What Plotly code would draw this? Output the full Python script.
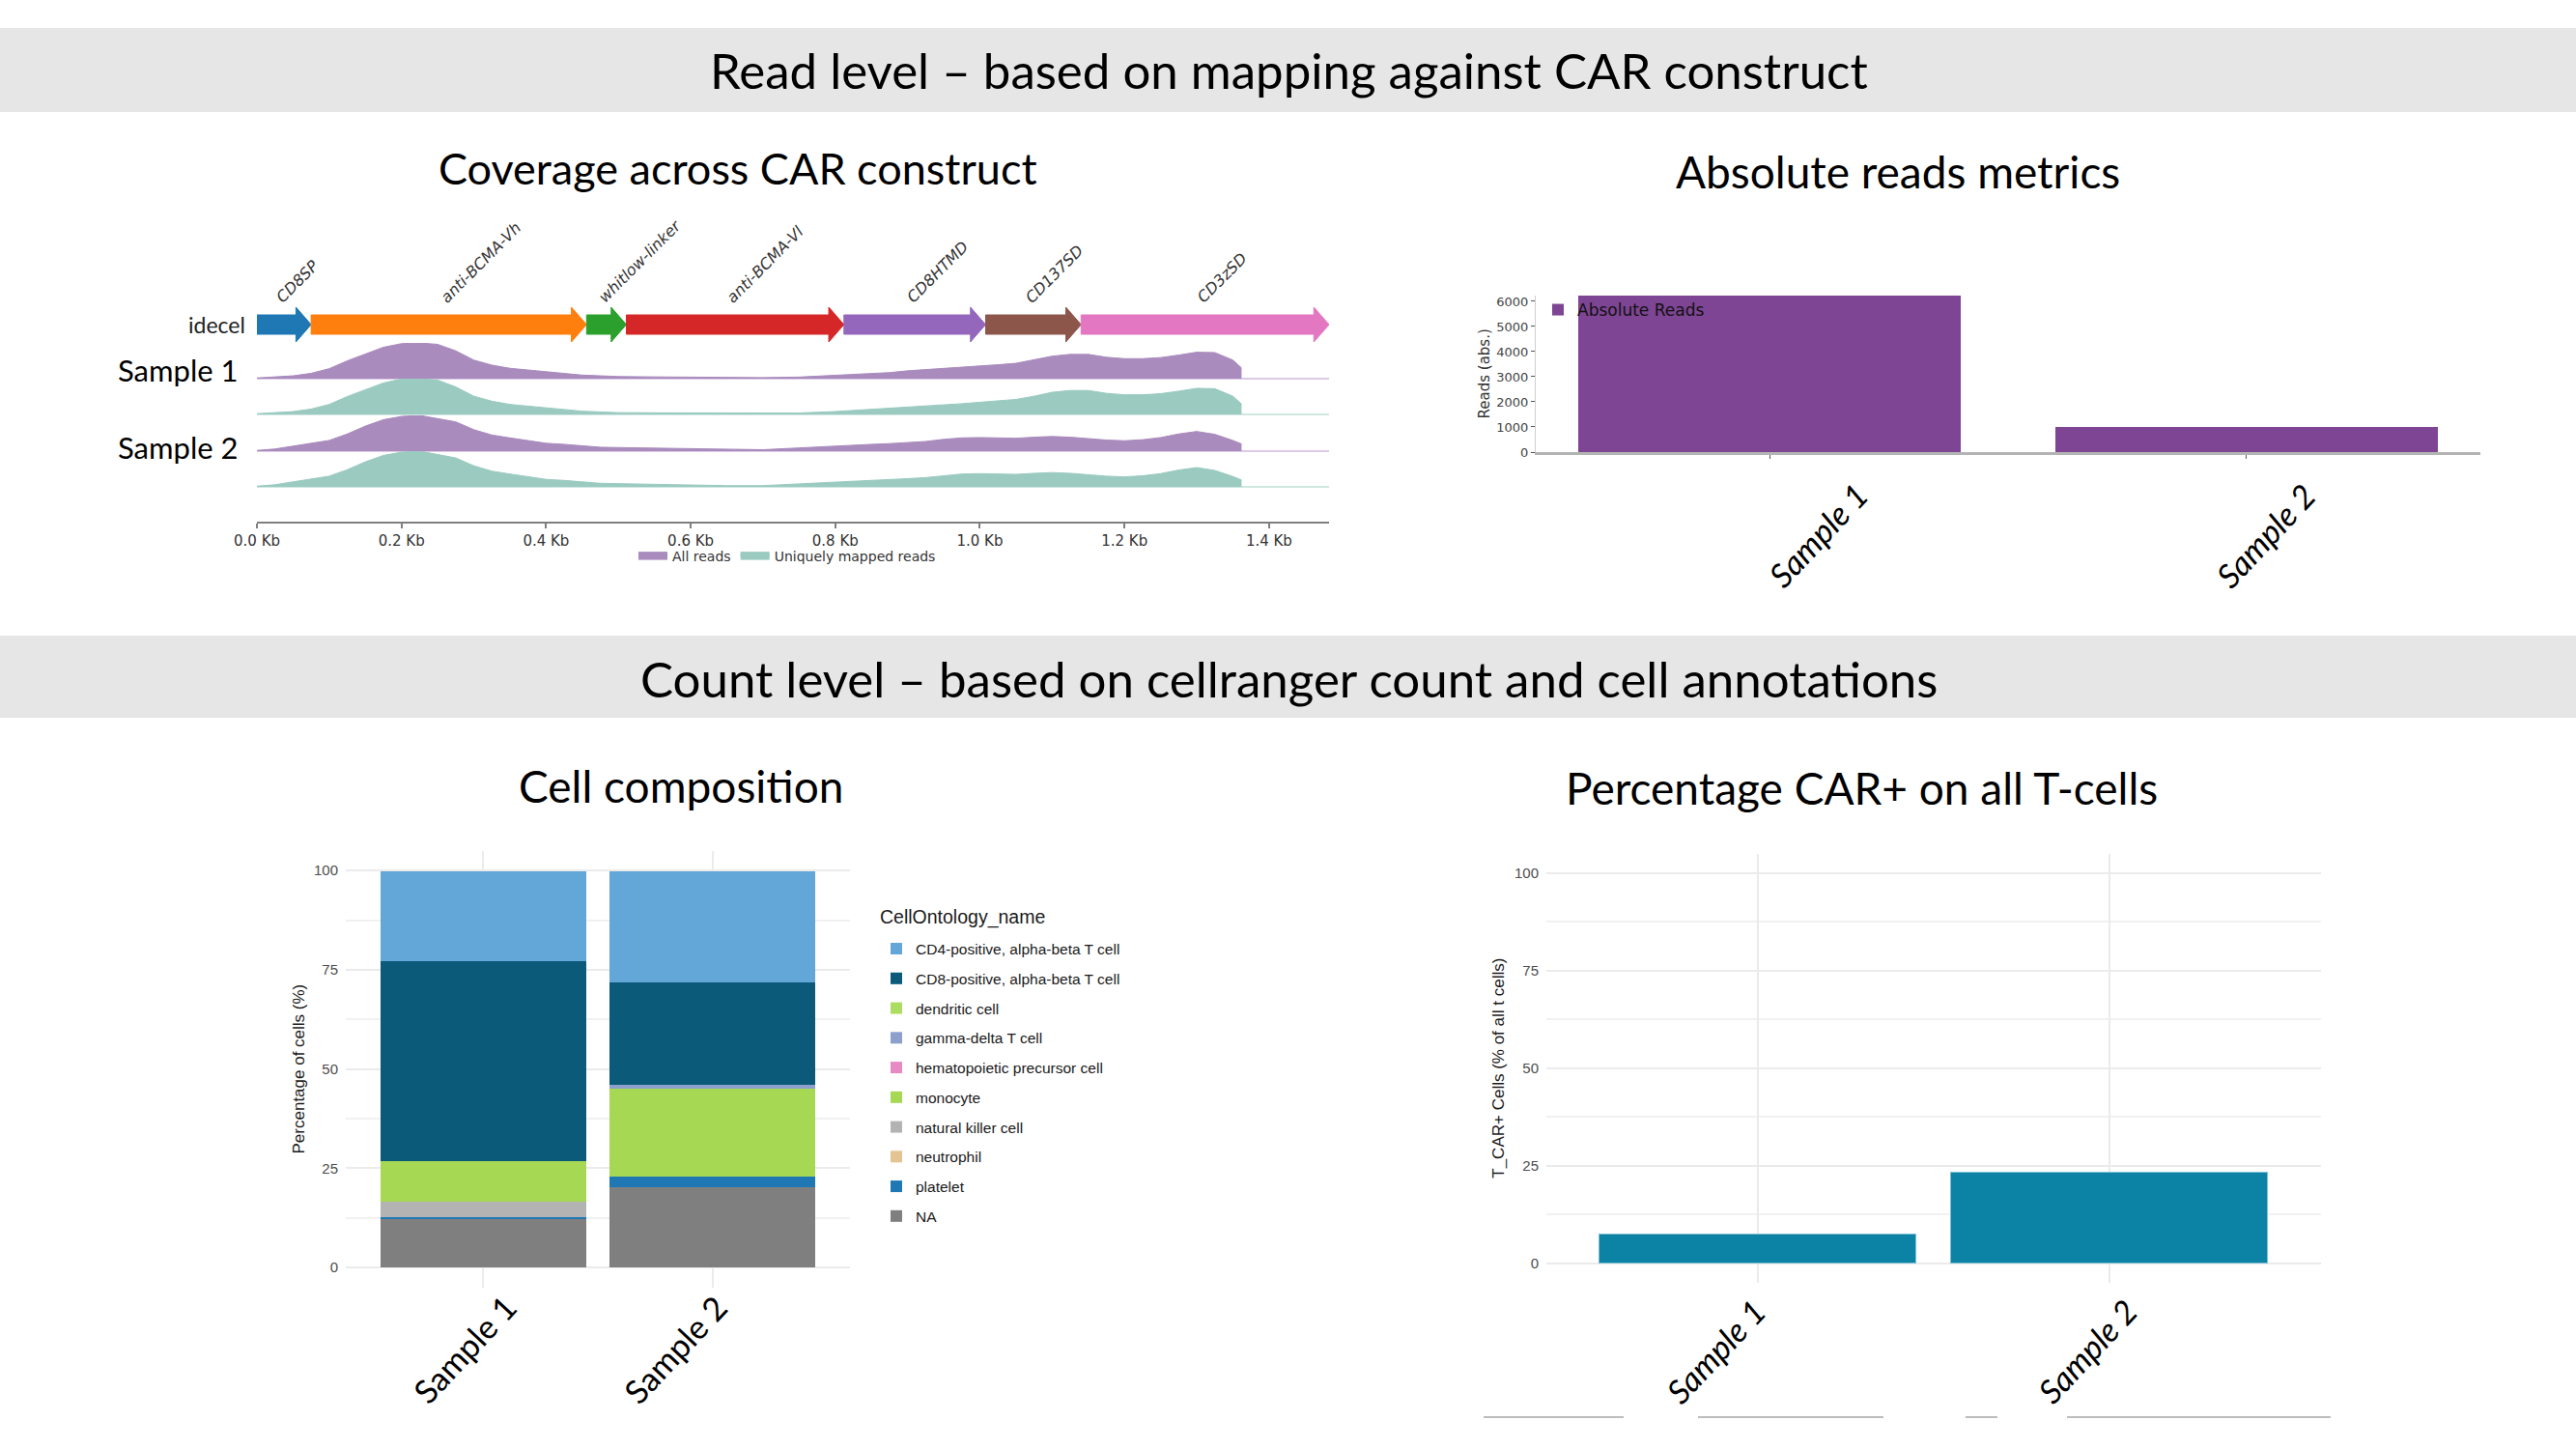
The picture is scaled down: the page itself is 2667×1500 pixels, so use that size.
import plotly.graph_objects as go

W, H = 2667, 1500

# ---------------- data ----------------
FEATURES = ["CD8SP", "anti-BCMA-Vh", "whitlow-linker", "anti-BCMA-Vl", "CD8HTMD", "CD137SD", "CD3zSD"]
FEAT_START = [0.0, 0.075, 0.456, 0.511, 0.812, 1.008, 1.140]
FEAT_END = [0.075, 0.456, 0.511, 0.812, 1.008, 1.140, 1.483]
FEAT_COLORS = ["#1f77b4", "#ff7f0e", "#2ca02c", "#d62728", "#9467bd", "#8c564b", "#e377c2"]
CONSTRUCT_NAME = "idecel"
CONSTRUCT_LEN_KB = 1.483

COV_KB = [0.0, 0.025, 0.05, 0.075, 0.1, 0.125, 0.15, 0.175, 0.2, 0.225, 0.25, 0.275, 0.3,
          0.325, 0.35, 0.375, 0.4, 0.425, 0.45, 0.475, 0.5, 0.55, 0.6, 0.65, 0.7, 0.75, 0.8,
          0.825, 0.85, 0.875, 0.9, 0.925, 0.95, 0.975, 1.0, 1.025, 1.05, 1.075, 1.1, 1.125,
          1.15, 1.175, 1.2, 1.225, 1.25, 1.275, 1.3, 1.325, 1.35, 1.362]
S1_ALL = [0.02, 0.04, 0.08, 0.15, 0.28, 0.50, 0.70, 0.88, 0.98, 1.00, 0.96, 0.78, 0.52,
          0.38, 0.29, 0.24, 0.19, 0.14, 0.10, 0.08, 0.06, 0.05, 0.045, 0.035, 0.03, 0.045, 0.09,
          0.12, 0.14, 0.17, 0.22, 0.25, 0.28, 0.31, 0.35, 0.39, 0.43, 0.52, 0.63, 0.68,
          0.68, 0.60, 0.56, 0.56, 0.59, 0.66, 0.74, 0.73, 0.52, 0.30]
S1_UNIQ = [0.02, 0.04, 0.08, 0.15, 0.28, 0.50, 0.70, 0.88, 0.99, 1.00, 0.96, 0.77, 0.51,
           0.37, 0.28, 0.23, 0.18, 0.13, 0.09, 0.07, 0.05, 0.045, 0.04, 0.03, 0.03, 0.04, 0.08,
           0.11, 0.13, 0.16, 0.21, 0.24, 0.27, 0.30, 0.34, 0.38, 0.42, 0.51, 0.62, 0.67,
           0.67, 0.59, 0.55, 0.55, 0.58, 0.65, 0.73, 0.72, 0.51, 0.29]
S2_ALL = [0.02, 0.06, 0.14, 0.22, 0.30, 0.48, 0.70, 0.88, 0.97, 1.00, 0.90, 0.82, 0.60,
          0.45, 0.37, 0.30, 0.22, 0.19, 0.14, 0.11, 0.10, 0.08, 0.06, 0.04, 0.04, 0.09, 0.15,
          0.16, 0.19, 0.21, 0.24, 0.27, 0.33, 0.37, 0.38, 0.37, 0.36, 0.39, 0.41, 0.39,
          0.34, 0.31, 0.29, 0.32, 0.38, 0.48, 0.55, 0.47, 0.30, 0.20]
S2_UNIQ = [0.02, 0.06, 0.14, 0.22, 0.30, 0.48, 0.70, 0.88, 0.97, 1.00, 0.90, 0.81, 0.59,
           0.44, 0.36, 0.29, 0.21, 0.18, 0.13, 0.10, 0.09, 0.07, 0.05, 0.035, 0.035, 0.08, 0.14,
           0.15, 0.18, 0.20, 0.23, 0.26, 0.32, 0.36, 0.37, 0.36, 0.35, 0.38, 0.40, 0.38,
           0.33, 0.30, 0.28, 0.31, 0.37, 0.47, 0.54, 0.46, 0.29, 0.19]
COV_TICKS = [0.0, 0.2, 0.4, 0.6, 0.8, 1.0, 1.2, 1.4]

SAMPLES = ["Sample 1", "Sample 2"]
ABS_READS = [6240, 1000]

CELL_LEGEND_TITLE = "CellOntology_name"
CELL_TYPES = ["CD4-positive, alpha-beta T cell", "CD8-positive, alpha-beta T cell", "dendritic cell",
              "gamma-delta T cell", "hematopoietic precursor cell", "monocyte", "natural killer cell",
              "neutrophil", "platelet", "NA"]
CELL_COLORS = ["#63a6d8", "#0c5a79", "#addc62", "#8da0cb", "#e78ac3", "#a6d854", "#b3b3b3",
               "#e5c494", "#1f78b4", "#7f7f7f"]
CELL_PCT_S1 = [22.7, 50.4, 0.0, 0.0, 0.0, 10.2, 3.9, 0.0, 0.5, 12.3]
CELL_PCT_S2 = [28.2, 25.8, 0.0, 0.9, 0.0, 22.1, 0.0, 0.0, 2.8, 20.2]

CAR_PCT = [7.4, 23.3]

# ---------------- helpers ----------------
def fx(px):
    return px / W

def fy(py):
    return 1 - py / H

OVER = "Lato"
MPL = "DejaVu Sans"
GG = "Liberation Sans"

fig = go.Figure()

# ---------------- coverage tracks ----------------
TRACK_BASE = [392, 429, 467, 504]
AMP = 37
tracks = [
    (S1_ALL, "#a98bbd", "#dccbe6", "All reads", True),
    (S1_UNIQ, "#9acac0", "#cfe7e1", "Uniquely mapped reads", True),
    (S2_ALL, "#a98bbd", "#dccbe6", "All reads", False),
    (S2_UNIQ, "#9acac0", "#cfe7e1", "Uniquely mapped reads", False),
]
yaxis_names = ["y", "y2", "y3", "y4"]
for i, (vals, col, zcol, name, show) in enumerate(tracks):
    fig.add_trace(go.Scatter(
        x=COV_KB, y=vals, mode="lines", fill="tozeroy", fillcolor=col,
        line=dict(color=col, width=1), name=name, showlegend=show, legend="legend",
        xaxis="x", yaxis=yaxis_names[i], hoverinfo="skip"))
    key = "yaxis" if i == 0 else f"yaxis{i+1}"
    base = TRACK_BASE[i]
    fig.layout[key] = dict(
        domain=[fy(base + 0.03 * AMP), fy(base - AMP)], range=[-0.03, 1.0], anchor="x",
        showticklabels=False, showgrid=False, showline=False, ticks="", automargin=False,
        zeroline=True, zerolinecolor=zcol, zerolinewidth=2, fixedrange=True)

fig.update_layout(xaxis=dict(
    domain=[fx(266), fx(1376)], range=[0, CONSTRUCT_LEN_KB], anchor="free", position=fy(541),
    showgrid=False, zeroline=False, showline=True, linecolor="#7f7f7f", linewidth=2,
    ticks="outside", ticklen=5, tickcolor="#7f7f7f", tickwidth=1.5, automargin=False,
    tickvals=COV_TICKS, ticktext=[f"{t:.1f} Kb" for t in COV_TICKS],
    tickfont=dict(family=MPL, size=15, color="#333333")))

# construct arrows
shapes = []
HEAD = 0.021
yb0, yb1 = fy(346), fy(326)
yh0, yh1 = fy(354), fy(318)
ymid = fy(336)
for s, e, c in zip(FEAT_START, FEAT_END, FEAT_COLORS):
    xh = e - HEAD
    path = (f"M {s},{yb0} L {xh},{yb0} L {xh},{yh0} L {e},{ymid} L {xh},{yh1} "
            f"L {xh},{yb1} L {s},{yb1} Z")
    shapes.append(dict(type="path", path=path, xref="x", yref="paper",
                       fillcolor=c, line=dict(color=c, width=1), layer="above"))

annotations = []
for name, s, e in zip(FEATURES, FEAT_START, FEAT_END):
    annotations.append(dict(
        x=(s + e) / 2, y=fy(320), xref="x", yref="paper", text=name, showarrow=False,
        xanchor="left", yanchor="bottom", textangle=-45, xshift=-15,
        font=dict(family=MPL, size=16, color="#333333", style="italic")))

annotations.append(dict(x=fx(256), y=fy(336), xref="paper", yref="paper", text=CONSTRUCT_NAME,
                        showarrow=False, xanchor="right", yanchor="middle",
                        font=dict(family=OVER, size=23, color="#222222")))
for lab, py in zip(SAMPLES, [383, 463]):
    annotations.append(dict(x=fx(248), y=fy(py), xref="paper", yref="paper", text=lab,
                            showarrow=False, xanchor="right", yanchor="middle",
                            font=dict(family=OVER, size=31, color="#000000")))

# ---------------- absolute reads ----------------
fig.add_trace(go.Bar(x=SAMPLES, y=ABS_READS, width=0.8, marker=dict(color="#7e4594", line=dict(width=0)),
                     name="Absolute Reads", xaxis="x2", yaxis="y5", legend="legend2",
                     showlegend=True))
fig.update_layout(
    xaxis2=dict(domain=[fx(1590), fx(2568)], range=[-0.49, 1.49], anchor="y5", automargin=False,
                showticklabels=False, ticks="outside", ticklen=4, tickcolor="#555555",
                showline=True, linecolor="#b4b4b4", linewidth=3, showgrid=False, zeroline=False),
    yaxis5=dict(domain=[fy(468), fy(305.7)], range=[0, 6240], anchor="x2", automargin=False,
                tickvals=[0, 1000, 2000, 3000, 4000, 5000, 6000], ticks="outside", ticklen=4,
                tickcolor="#555555", showline=True, linecolor="#cfcfcf", linewidth=1,
                showgrid=False, zeroline=False,
                tickfont=dict(family=MPL, size=13, color="#444444"),
                title=dict(text="Reads (abs.)", standoff=3,
                           font=dict(family=MPL, size=15, color="#333333"))))

# ---------------- cell composition ----------------
for k in range(len(CELL_TYPES) - 1, -1, -1):
    fig.add_trace(go.Bar(
        x=SAMPLES, y=[CELL_PCT_S1[k], CELL_PCT_S2[k]], width=0.9, name=CELL_TYPES[k],
        marker=dict(color=CELL_COLORS[k], line=dict(width=0)), xaxis="x3", yaxis="y6",
        legend="legend3", legendgroup=CELL_TYPES[k], legendrank=k + 1))

gridc = "#ebebeb"
fig.update_layout(
    xaxis3=dict(domain=[fx(358), fx(880)], range=[-0.6, 1.6], anchor="y6", automargin=False,
                showticklabels=False, ticks="", showgrid=True, gridcolor=gridc, gridwidth=2,
                showline=False, zeroline=False),
    yaxis6=dict(domain=[fy(1332.5), fy(880.7)], range=[-5, 105], anchor="x3", automargin=False,
                tickvals=[0, 25, 50, 75, 100], showgrid=True, gridcolor=gridc, gridwidth=2,
                minor=dict(dtick=12.5, tick0=0, showgrid=True, gridcolor="#f1f1f1", gridwidth=1.5),
                zeroline=False, showline=False, ticks="", ticklabelstandoff=7,
                tickfont=dict(family=GG, size=15, color="#4d4d4d"),
                title=dict(text="Percentage of cells (%)", standoff=5,
                           font=dict(family=GG, size=17, color="#1a1a1a"))))
annotations.append(dict(x=fx(909), y=fy(949), xref="paper", yref="paper", text=CELL_LEGEND_TITLE,
                        showarrow=False, xanchor="left", yanchor="middle",
                        font=dict(family=GG, size=19.5, color="#1a1a1a")))

# ---------------- CAR+ percentage ----------------
fig.add_trace(go.Bar(x=SAMPLES, y=CAR_PCT, width=0.9,
                     marker=dict(color="#0c82a4", line=dict(color="#7cc0d4", width=1)),
                     name="T_CAR+", xaxis="x4", yaxis="y7", showlegend=False))
fig.update_layout(
    xaxis4=dict(domain=[fx(1601), fx(2403)], range=[-0.6, 1.6], anchor="y7", automargin=False,
                showticklabels=False, ticks="", showgrid=True, gridcolor=gridc, gridwidth=2,
                showline=False, zeroline=False),
    yaxis7=dict(domain=[fy(1327.7), fy(883.6)], range=[-5, 105], anchor="x4", automargin=False,
                tickvals=[0, 25, 50, 75, 100], showgrid=True, gridcolor=gridc, gridwidth=2,
                minor=dict(dtick=12.5, tick0=0, showgrid=True, gridcolor="#f1f1f1", gridwidth=1.5),
                zeroline=False, showline=False, ticks="", ticklabelstandoff=7,
                tickfont=dict(family=GG, size=15, color="#4d4d4d"),
                title=dict(text="T_CAR+ Cells (% of all t cells)", standoff=6,
                           font=dict(family=GG, size=17, color="#1a1a1a"))))

# rotated sample labels
label_specs = [
    ("x2", [50, 20], 554, True),
    ("x3", [-20, -39], 1396, False),
    ("x4", [-44, -24], 1398, True),
]
for xr, shifts, py, ital in label_specs:
    for s, sh in zip(SAMPLES, shifts):
        annotations.append(dict(
            x=s, y=fy(py), xref=xr, yref="paper", text=s, showarrow=False,
            xshift=sh, xanchor="center", yanchor="middle", textangle=-47,
            font=dict(family=OVER, size=34, color="#000000",
                      style="italic" if ital else "normal")))

# ---------------- headers & titles ----------------
shapes.append(dict(type="rect", xref="paper", yref="paper", x0=0, x1=1, y0=fy(116), y1=fy(29),
                   fillcolor="#e6e6e6", line=dict(width=0), layer="below"))
shapes.append(dict(type="rect", xref="paper", yref="paper", x0=0, x1=1, y0=fy(743), y1=fy(658),
                   fillcolor="#e6e6e6", line=dict(width=0), layer="below"))
headers = [
    ("Read level \u2013 based on mapping against CAR construct", 1334, 73, 51),
    ("Count level \u2013 based on cellranger count and cell annotations", 1334, 702, 51),
    ("Coverage across CAR construct", 764, 174, 45),
    ("Absolute reads metrics", 1965, 177, 46),
    ("Cell composition", 705, 813, 46),
    ("Percentage CAR+ on all T-cells", 1927, 815, 46),
]
for txt, px, py, sz in headers:
    annotations.append(dict(x=fx(px), y=fy(py), xref="paper", yref="paper", text=txt,
                            showarrow=False, xanchor="center", yanchor="middle",
                            font=dict(family=OVER, size=sz, color="#000000")))

# stray light rules at bottom right
for x0, x1 in [(1536, 1681), (1758, 1950), (2035, 2068), (2140, 2413)]:
    shapes.append(dict(type="line", xref="paper", yref="paper", x0=fx(x0), x1=fx(x1),
                       y0=fy(1467), y1=fy(1467), line=dict(color="#bdbdbd", width=2)))

fig.update_layout(
    width=W, height=H, margin=dict(l=0, r=0, t=0, b=0, autoexpand=False),
    paper_bgcolor="white", plot_bgcolor="rgba(0,0,0,0)",
    barmode="stack", bargap=0,
    shapes=shapes, annotations=annotations,
    legend=dict(orientation="h", x=fx(656), y=fy(560), xanchor="left", yanchor="top",
                traceorder="normal",
                bgcolor="rgba(0,0,0,0)", font=dict(family=MPL, size=14, color="#333333"),
                itemsizing="constant"),
    legend2=dict(x=fx(1593), y=fy(303), xanchor="left", yanchor="top",
                 bgcolor="rgba(0,0,0,0)", font=dict(family=MPL, size=17, color="#111111")),
    legend3=dict(x=fx(908), y=fy(965.5), xanchor="left", yanchor="top", bgcolor="rgba(0,0,0,0)",
                 tracegroupgap=7.6, itemsizing="constant",
                 font=dict(family=GG, size=15.5, color="#1a1a1a")),
    showlegend=True,
)

fig.write_html("out.html", config={"displayModeBar": False},
               post_script="document.body.style.margin='0';document.body.style.overflow='hidden';")
